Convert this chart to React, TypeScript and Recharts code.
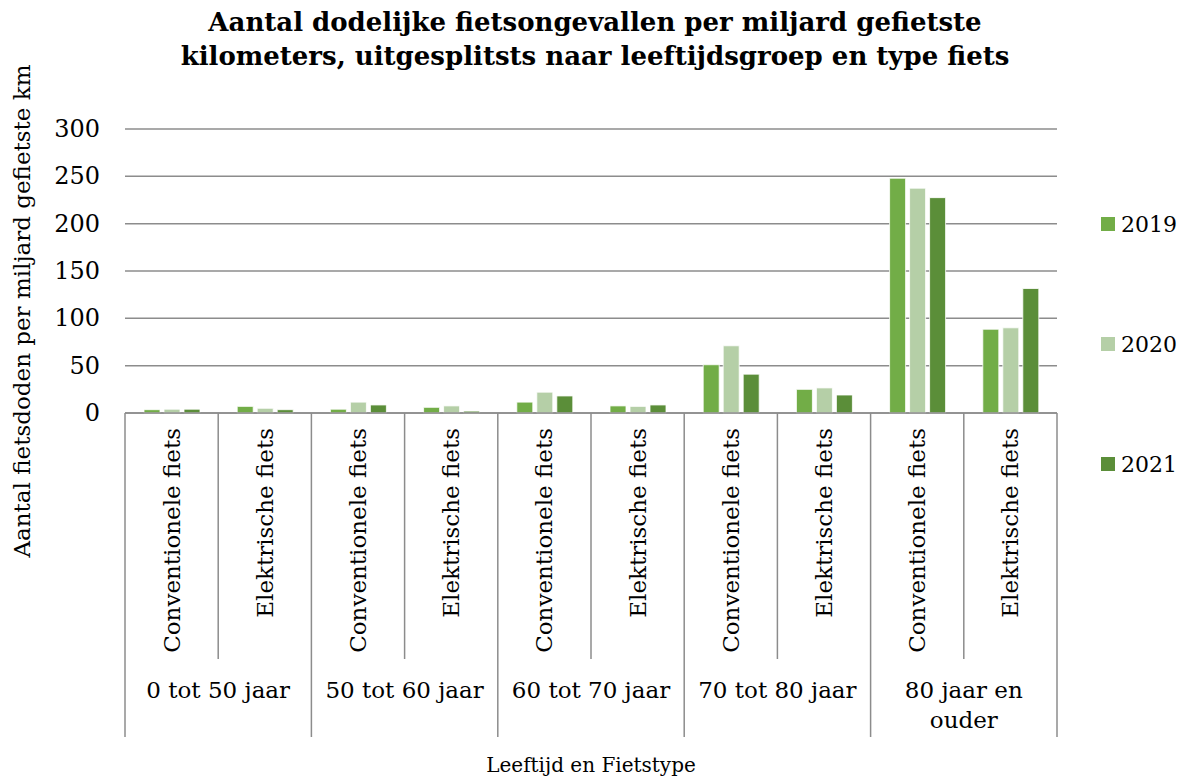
import React from 'react';
import { BarChart, Bar, XAxis, YAxis, CartesianGrid } from 'recharts';

const categories = [
  'Conventionele fiets', 'Elektrische fiets',
  'Conventionele fiets', 'Elektrische fiets',
  'Conventionele fiets', 'Elektrische fiets',
  'Conventionele fiets', 'Elektrische fiets',
  'Conventionele fiets', 'Elektrische fiets',
];
const groups = [['0 tot 50 jaar'], ['50 tot 60 jaar'], ['60 tot 70 jaar'], ['70 tot 80 jaar'], ['80 jaar en', 'ouder']];
const values2019 = [3.5, 7, 4, 6, 11.5, 7.5, 51, 25, 248, 88.5];
const values2020 = [4, 5, 11.5, 7.5, 22, 7, 71, 26.5, 237.5, 90];
const values2021 = [4, 3.5, 8.5, 2, 18, 8.5, 41, 19, 227.5, 131.5];
const yTicks = [0, 50, 100, 150, 200, 250, 300];
const seriesNames = ['2019', '2020', '2021'];
const colors = ['#72ad47', '#b5cfa7', '#5b8e39'];

const data = categories.map((c, i) => ({
  key: String(i),
  cat: c,
  '2019': values2019[i],
  '2020': values2020[i],
  '2021': values2021[i],
}));

const FONT = '"DejaVu Serif", serif';
const W = 1188;
const H = 778;
const M_TOP = 129;
const Y_W = 125;
const M_RIGHT = 131;
const X_H = 365;
const PLOT_W = W - Y_W - M_RIGHT;
const BAND = PLOT_W / categories.length;
const LINE = '#8c8c8c';
const FS = 23;

const XTick = (props: any) => {
  const { x, y, payload, index } = props;
  const left = x - BAND / 2;
  const isGroupStart = index % 2 === 0;
  const last = index === categories.length - 1;
  const g = groups[Math.floor(index / 2)];
  return (
    <g>
      <line x1={left} x2={left} y1={y} y2={isGroupStart ? y + 324 : y + 246} stroke={LINE} strokeWidth={1.5} />
      {last && <line x1={x + BAND / 2} x2={x + BAND / 2} y1={y} y2={y + 324} stroke={LINE} strokeWidth={1.5} />}
      <text
        transform={`translate(${x + 8},${y + 15}) rotate(-90)`}
        textAnchor="end"
        fontFamily={FONT}
        fontSize={FS}
        fill="#000"
      >
        {payload.value}
      </text>
      {isGroupStart &&
        g.map((line, li) => (
          <text key={li} x={x + BAND / 2} y={y + 285 + li * 30} textAnchor="middle" fontFamily={FONT} fontSize={FS} fill="#000">
            {line}
          </text>
        ))}
    </g>
  );
};

const YTick = (props: any) => {
  const { y, payload } = props;
  return (
    <text x={100} y={y + 8} textAnchor="end" fontFamily={FONT} fontSize={24} fill="#000">
      {payload.value}
    </text>
  );
};

export default function App() {
  return (
    <div style={{ position: 'absolute', left: 0, top: 0, width: W, height: H, background: '#fff' }}>
      <div
        style={{
          position: 'absolute',
          left: 0,
          top: 5,
          width: 1190,
          textAlign: 'center',
          fontFamily: FONT,
          fontWeight: 'bold',
          fontSize: 26,
          lineHeight: '34px',
          color: '#000',
        }}
      >
        Aantal dodelijke fietsongevallen per miljard gefietste
        <br />
        kilometers, uitgesplitsts naar leeftijdsgroep en type fiets
      </div>
      <div style={{ position: 'absolute', left: 1101, top: 210, fontFamily: FONT, fontSize: 22, color: '#000' }}>
        {seriesNames.map((n, i) => (
          <div key={n} style={{ position: 'absolute', left: 0, top: i * 120, display: 'flex', alignItems: 'center', whiteSpace: 'nowrap', height: 28 }}>
            <span style={{ display: 'inline-block', width: 14, height: 14, background: colors[i], marginRight: 6 }} />
            <span>{n}</span>
          </div>
        ))}
      </div>
      <div style={{ position: 'absolute', left: 0, top: 0 }}>
        <BarChart
          width={W}
          height={H}
          data={data}
          margin={{ top: M_TOP, right: M_RIGHT, left: 0, bottom: 0 }}
          barGap={4}
          barSize={16}
        >
          <CartesianGrid vertical={false} stroke={LINE} strokeWidth={1.5} />
          <XAxis
            dataKey="cat"
            interval={0}
            height={X_H}
            tickLine={false}
            tickSize={0}
            tickMargin={0}
            axisLine={{ stroke: LINE, strokeWidth: 1.5 }}
            tick={<XTick />}
            label={() => (
              <text x={591} y={772} textAnchor="middle" fontFamily={FONT} fontSize={20} fill="#000">
                Leeftijd en Fietstype
              </text>
            )}
          />
          <YAxis
            width={Y_W}
            domain={[0, 300]}
            ticks={yTicks}
            interval={0}
            axisLine={false}
            tickLine={false}
            tick={<YTick />}
            label={() => (
              <text transform="translate(30,311) rotate(-90)" textAnchor="middle" fontFamily={FONT} fontSize={FS} fill="#000">
                Aantal fietsdoden per miljard gefietste km
              </text>
            )}
          />
          {seriesNames.map((n, i) => (
            <Bar key={n} dataKey={n} fill={colors[i]} stroke="#ffffff" strokeWidth={0.8} isAnimationActive={false} />
          ))}
        </BarChart>
      </div>
    </div>
  );
}
